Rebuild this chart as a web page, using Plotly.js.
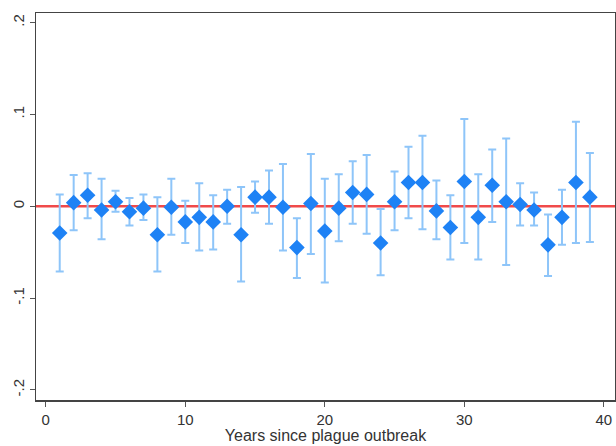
<!DOCTYPE html>
<html>
<head>
<meta charset="utf-8">
<script src="https://cdn.plot.ly/plotly-3.0.1.min.js"></script>
<style>html,body{margin:0;padding:0;background:#fff;}#chart{width:616px;height:446px;}</style>
</head>
<body>
<div id="chart"></div>
<script>
const years = [1,2,3,4,5,6,7,8,9,10,11,12,13,14,15,16,17,18,19,20,21,22,23,24,25,26,27,28,29,30,31,32,33,34,35,36,37,38,39];
const estimates = [-0.029,0.004,0.012,-0.004,0.005,-0.006,-0.002,-0.031,-0.001,-0.017,-0.012,-0.017,0.000,-0.031,0.010,0.010,-0.001,-0.045,0.003,-0.027,-0.002,0.015,0.013,-0.040,0.005,0.026,0.026,-0.005,-0.023,0.027,-0.012,0.023,0.005,0.002,-0.004,-0.042,-0.012,0.026,0.010];
const upperCI = [0.013,0.034,0.036,0.030,0.017,0.009,0.013,0.010,0.030,0.006,0.025,0.012,0.018,0.021,0.027,0.039,0.046,-0.013,0.057,0.030,0.035,0.049,0.056,-0.003,0.038,0.065,0.077,0.028,0.012,0.095,0.035,0.062,0.074,0.025,0.015,-0.009,0.018,0.092,0.058];
const lowerCI = [-0.071,-0.026,-0.013,-0.036,-0.006,-0.021,-0.015,-0.071,-0.031,-0.040,-0.048,-0.047,-0.019,-0.082,-0.007,-0.019,-0.048,-0.078,-0.052,-0.083,-0.038,-0.019,-0.030,-0.075,-0.026,-0.013,-0.025,-0.036,-0.058,-0.040,-0.058,-0.017,-0.064,-0.021,-0.021,-0.076,-0.042,-0.040,-0.039];
const yTickVals = [-0.2,-0.1,0,0.1,0.2];
const yTickText = ["-.2","-.1","0",".1",".2"];
const xTickVals = [0,10,20,30,40];
const xTitle = "Years since plague outbreak";

const errPlus = estimates.map((v,i)=>upperCI[i]-v);
const errMinus = estimates.map((v,i)=>v-lowerCI[i]);

const traces = [
  {
    x: years, y: estimates, type: 'scatter', mode: 'markers',
    marker: {symbol: 'diamond', size: 12, color: '#1e82f5'},
    error_y: {type: 'data', symmetric: false, array: errPlus, arrayminus: errMinus,
      color: '#8ec5f9', thickness: 2, width: 4},
    showlegend: false, hoverinfo: 'none'
  }
];

const layout = {
  width: 616, height: 446,
  margin: {l: 36, r: 1, t: 13, b: 46},
  paper_bgcolor: '#fff', plot_bgcolor: '#fff',
  font: {family: 'Liberation Sans, Arial, sans-serif', size: 15, color: '#333'},
  showlegend: false,
  shapes: [{type: 'line', xref: 'paper', x0: 0, x1: 1, yref: 'y', y0: 0, y1: 0,
    line: {color: '#f04a4a', width: 2.5}, layer: 'below'}],
  xaxis: {
    range: [-0.7, 40.8], tickvals: xTickVals, ticktext: xTickVals.map(String),
    ticks: 'outside', ticklen: 5, tickwidth: 1, tickcolor: '#555',
    showgrid: false, zeroline: false, showline: true, linecolor: '#444', linewidth: 1.5, mirror: true,
    title: {text: xTitle, font: {size: 16, color: '#333'}, standoff: 0},
    tickfont: {size: 15, color: '#333'}
  },
  yaxis: {
    range: [-0.211, 0.2106], tickvals: yTickVals, ticktext: yTickText, tickangle: -90,
    ticks: 'outside', ticklen: 5, tickwidth: 1, tickcolor: '#555',
    showgrid: false, zeroline: false, showline: true, linecolor: '#444', linewidth: 1.5, mirror: true,
    tickfont: {size: 15, color: '#333'}
  }
};

Plotly.newPlot('chart', traces, layout, {displayModeBar: false, staticPlot: true});
</script>
</body>
</html>
